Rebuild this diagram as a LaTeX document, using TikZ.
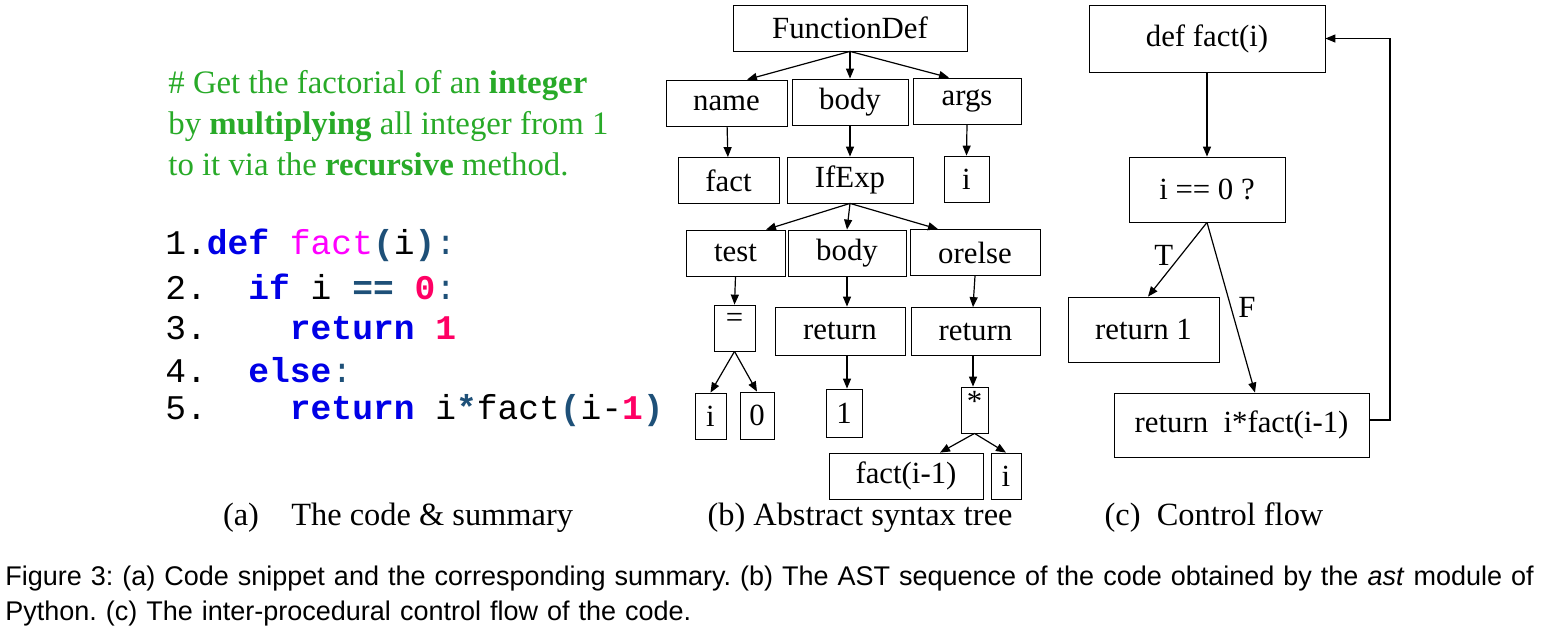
\documentclass[tikz,border=0pt]{standalone}
\usepackage{fontspec}
\setmainfont{Liberation Serif}
\setsansfont{Liberation Sans}
\setmonofont{Liberation Mono}
\usetikzlibrary{arrows.meta}
\definecolor{cmtgreen}{RGB}{40,170,40}
\definecolor{kwblue}{RGB}{0,0,230}
\definecolor{fnpink}{RGB}{255,0,255}
\definecolor{numred}{RGB}{255,0,100}
\definecolor{opblue}{RGB}{30,80,120}
\tikzset{
  box/.style={draw, rectangle, inner sep=0pt, font=\fontsize{15.4}{17}\selectfont},
  arr/.style={-{Triangle[length=5pt,width=4pt]}, semithick},
  code/.style={anchor=west, inner sep=0pt, font=\fontsize{17.3}{20}\ttfamily}
}
\begin{document}
\frenchspacing
\begin{tikzpicture}[x=0.5pt,y=-0.5pt]
			\useasboundingbox (0,0) rectangle (1565,634);
			
			% summary
			\node[anchor=west, inner sep=0pt, text=cmtgreen, font=\fontsize{16.4}{20.5}\selectfont, align=left] (summary) at (168,123)
			  {\# Get the factorial of an \textbf{integer}\\ by \textbf{multiplying} all integer from 1\\ to it via the \textbf{recursive} method.};
			
			% code
			\node[code] (l1) at (165,245) {1.\textcolor{kwblue}{\textbf{def}} \textcolor{fnpink}{fact}\textcolor{opblue}{\textbf{(}}i\textcolor{opblue}{\textbf{)}}\textcolor{opblue}{:}};
			\node[code] (l2) at (165,287) {2.\ \ \textcolor{kwblue}{\textbf{if}} i \textcolor{opblue}{\textbf{==}} \textcolor{numred}{\textbf{0}}\textcolor{opblue}{:}};
			\node[code] (l3) at (165,328) {3.\ \ \ \ \textcolor{kwblue}{\textbf{return}} \textcolor{numred}{\textbf{1}}};
			\node[code] (l4) at (165,370) {4.\ \ \textcolor{kwblue}{\textbf{else}}\textcolor{opblue}{:}};
			\node[code] (l5) at (165,411) {5.\ \ \ \ \textcolor{kwblue}{\textbf{return}} i\textcolor{opblue}{\textbf{*}}fact\textcolor{opblue}{\textbf{(}}i-\textcolor{numred}{\textbf{1}}\textcolor{opblue}{\textbf{)}}};
			
			% abstract syntax tree
			\node[box, minimum width=117pt, minimum height=23pt] (fd) at (850,28) {FunctionDef};
			\node[box, minimum width=60.5pt, minimum height=23pt] (name) at (726.5,103) {name};
			\node[box, minimum width=58pt, minimum height=23pt] (body) at (850,102) {body};
			\node[box, minimum width=54pt, minimum height=23pt] (args) at (967,101) {args};
			\node[box, minimum width=50.5pt, minimum height=23pt] (fact) at (728.5,180.5) {fact};
			\node[box, minimum width=63pt, minimum height=23pt] (ifexp) at (850,180) {IfExp};
			\node[box, minimum width=22.5pt, minimum height=23pt] (iarg) at (966.5,179) {i};
			\node[box, minimum width=49.5pt, minimum height=23pt] (test) at (735.5,253) {test};
			\node[box, minimum width=59pt, minimum height=23pt] (ibody) at (847,253) {body};
			\node[box, minimum width=65pt, minimum height=23pt] (orelse) at (975,252.5) {orelse};
			\node[box, minimum width=20.5pt, minimum height=23pt, text depth=8pt] (eq) at (734.5,328) {=};
			\node[box, minimum width=65pt, minimum height=24pt] (ret1) at (840,331) {return};
			\node[box, minimum width=64.5pt, minimum height=24pt] (ret2) at (975.5,331.5) {return};
			\node[box, minimum width=15.5pt, minimum height=23pt] (ti) at (710.5,416) {i};
			\node[box, minimum width=17pt, minimum height=23.5pt] (tz) at (757,415.5) {0};
			\node[box, minimum width=18pt, minimum height=24pt] (one) at (844,413) {1};
			\node[box, minimum width=13.5pt, minimum height=23pt, text depth=9pt] (mul) at (974.5,410) {*};
			\node[box, minimum width=77pt, minimum height=23pt] (rec) at (906,476) {fact(i-1)};
			\node[box, minimum width=15pt, minimum height=23pt] (mi) at (1006,476) {i};
			
			\draw[arr] (fd.south) -- (name.north -| 747,0);
			\draw[arr] (fd.south) -- (body.north);
			\draw[arr] (fd.south) -- (args.north -| 949,0);
			\draw[arr] (name) -- (fact);
			\draw[arr] (body) -- (ifexp);
			\draw[arr] (args.south) -- (iarg.north);
			\draw[arr] (ifexp.south) -- (test.north -| 766,0);
			\draw[arr] (ifexp.south) -- (ibody.north -| 847,0);
			\draw[arr] (ifexp.south) -- (orelse.north -| 938,0);
			\draw[arr] (test.south) -- (eq.north);
			\draw[arr] (ibody.south) -- (ret1.north -| 847,0);
			\draw[arr] (orelse.south) -- (ret2.north -| 973,0);
			\draw[arr] (eq.south) -- (ti.north);
			\draw[arr] (eq.south) -- (tz.north);
			\draw[arr] (ret1.south -| 847,0) -- (one.north -| 847,0);
			\draw[arr] (ret2.south -| 973,0) -- (mul.north -| 973,0);
			\draw[arr] (mul.south) -- (rec.north -| 940,0);
			\draw[arr] (mul.south) -- (mi.north);
			
			% control flow
			\node[box, minimum width=118pt, minimum height=33.5pt] (def) at (1207,38.5) {def fact(i)};
			\node[box, minimum width=78pt, minimum height=32.5pt] (cond) at (1207,189.5) {i == 0 ?};
			\node[box, minimum width=75.5pt, minimum height=32.5pt] (rone) at (1143.5,329.5) {return 1};
			\node[box, minimum width=127.5pt, minimum height=32pt] (rrec) at (1241.5,425) {return\ \ i*fact(i-1)};
			\coordinate (loop) at (1390,420);
			
			\draw[arr] (def) -- (cond);
			\draw[arr] (cond.south) -- node[pos=0.45, left, font=\fontsize{15.4}{17}\selectfont] {T} (rone.north -| 1148,0);
			\draw[arr] (cond.south) -- node[pos=0.5, right, font=\fontsize{15.4}{17}\selectfont] {F} (rrec.north -| 1255,0);
			\draw[arr] (rrec.east |- loop) -- (loop) -- (loop |- def.east) -- (def.east);
			
			% sub captions
			\node[font=\fontsize{16.2}{18}\selectfont] (capa) at (398,518) {(a)\quad The code \& summary};
			\node[font=\fontsize{16.2}{18}\selectfont] (capb) at (860,518) {(b) Abstract syntax tree};
			\node[font=\fontsize{16.2}{18}\selectfont] (capc) at (1214,518) {(c)\ \ Control flow};
			
			% figure caption
			\node[anchor=north west, inner sep=0pt, font=\sffamily\fontsize{13.5}{17.5}\selectfont, align=left, text width=780pt] (cap) at (5,566)
			  {Figure 3: (a) Code snippet and the corresponding summary. (b) The AST sequence of the code obtained by the \textit{ast} module of\\ Python. (c) The inter-procedural control flow of the code.};
			
		\end{tikzpicture}
\end{document}
